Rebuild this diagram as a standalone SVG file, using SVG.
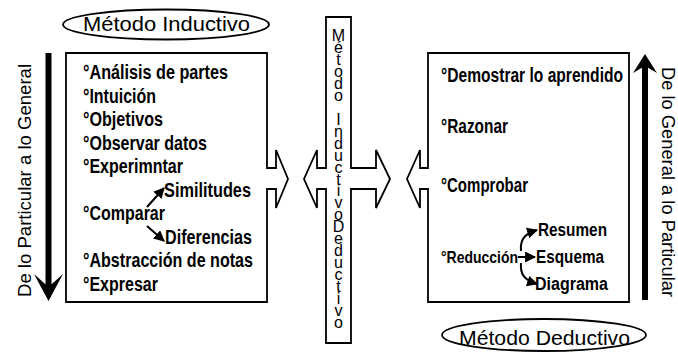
<svg xmlns="http://www.w3.org/2000/svg" width="678" height="352" viewBox="0 0 678 352">
<style>
.box{fill:#fff;stroke:#000;stroke-width:1.8;stroke-linejoin:miter}
.it{font-family:"Liberation Sans",Arial,sans-serif;font-weight:bold;font-size:20px;fill:#000}
.sm{font-size:18px}
.xs{font-size:16.5px}
.lbl{font-family:"Liberation Sans",Arial,sans-serif;font-size:20px;fill:#000}
.side{font-family:"Liberation Sans",Arial,sans-serif;font-size:19px;fill:#000}
.mid{font-family:"Liberation Sans",Arial,sans-serif;font-size:16px;fill:#000;writing-mode:vertical-rl;text-orientation:upright}
.ell{fill:#fff;stroke:#000;stroke-width:1.8}
.con{fill:none;stroke:#000;stroke-width:2}
</style>
<defs>
<marker id="ah" viewBox="0 0 10 10" refX="9" refY="5" markerWidth="11" markerHeight="11" markerUnits="userSpaceOnUse" orient="auto">
<path d="M0,0 L10,5 L0,10 Z" fill="#000"/>
</marker>
</defs>
<rect width="678" height="352" fill="#fff"/>

<g id="node-inductivo-label">
<ellipse class="ell" cx="166" cy="24.5" rx="103" ry="15"/>
<text class="lbl" x="83" y="31" textLength="167" lengthAdjust="spacingAndGlyphs">Método Inductivo</text>
</g>

<g id="node-deductivo-label">
<ellipse class="ell" cx="544" cy="335" rx="102" ry="16"/>
<text class="lbl" x="459" y="345" textLength="171" lengthAdjust="spacingAndGlyphs">Método Deductivo</text>
</g>

<g id="node-inductivo">
<path class="box" d="M66,53 H267 V168 H276 V150 L288,179 L276,208 V189 H267 V302 H66 Z"/>
<text class="it" x="83" y="79" textLength="145" lengthAdjust="spacingAndGlyphs">°Análisis de partes</text>
<text class="it" x="83" y="103" textLength="73" lengthAdjust="spacingAndGlyphs">°Intuición</text>
<text class="it" x="83" y="126" textLength="80" lengthAdjust="spacingAndGlyphs">°Objetivos</text>
<text class="it" x="83" y="150" textLength="124" lengthAdjust="spacingAndGlyphs">°Observar datos</text>
<text class="it" x="83" y="173" textLength="100" lengthAdjust="spacingAndGlyphs">°Experimntar</text>
<text class="it" x="164" y="197" textLength="87" lengthAdjust="spacingAndGlyphs">Similitudes</text>
<text class="it" x="83" y="220" textLength="82" lengthAdjust="spacingAndGlyphs">°Comparar</text>
<text class="it" x="165" y="244" textLength="87" lengthAdjust="spacingAndGlyphs">Diferencias</text>
<text class="it" x="83" y="267" textLength="170" lengthAdjust="spacingAndGlyphs">°Abstracción de notas</text>
<text class="it" x="83" y="291" textLength="75" lengthAdjust="spacingAndGlyphs">°Expresar</text>
</g>

<g id="node-central">
<path class="box" d="M326,17 H351 V168 H376 V150 L390,179 L376,208 V189 H351 V343 H326 V189 H317 V208 L304,179 L317,150 V168 H326 Z"/>
<text class="mid" x="338.5" y="27" textLength="304" lengthAdjust="spacing">Método InductivoDeductivo</text>
</g>

<g id="node-deductivo">
<path class="box" d="M428,53 H629 V302 H428 V189 H420 V208 L407,179 L420,150 V168 H428 Z"/>
<text class="it" x="441" y="82" textLength="182" lengthAdjust="spacingAndGlyphs">°Demostrar lo aprendido</text>
<text class="it" x="441" y="133" textLength="67" lengthAdjust="spacingAndGlyphs">°Razonar</text>
<text class="it" x="441" y="192" textLength="87" lengthAdjust="spacingAndGlyphs">°Comprobar</text>
<text class="it sm" x="538" y="236" textLength="69" lengthAdjust="spacingAndGlyphs">Resumen</text>
<text class="it xs" x="441" y="263" textLength="77" lengthAdjust="spacingAndGlyphs">°Reducción</text>
<text class="it sm" x="536" y="263" textLength="68" lengthAdjust="spacingAndGlyphs">Esquema</text>
<text class="it sm" x="535" y="290" textLength="73" lengthAdjust="spacingAndGlyphs">Diagrama</text>
</g>

<g id="node-left-direction">
<rect x="45.5" y="53" width="6" height="236" fill="#000"/>
<polygon points="34,274 48.5,287 63,274 48.5,301" fill="#000"/>
<text class="side" transform="translate(31,297) rotate(-90)" textLength="233" lengthAdjust="spacingAndGlyphs">De lo Particular a lo General</text>
</g>

<g id="node-right-direction">
<rect x="642" y="66" width="6" height="234" fill="#000"/>
<polygon points="645,54 633,73 645,66 657,73" fill="#000"/>
<text class="side" transform="translate(662,67) rotate(90)" textLength="230" lengthAdjust="spacingAndGlyphs">De lo General a lo Particular</text>
</g>

<g id="connectors">
<path class="con" d="M147,207 L164,188" marker-end="url(#ah)"/>
<path class="con" d="M147,226 L164,241" marker-end="url(#ah)"/>
<path class="con" d="M521,251 C520,240 524,234 537,230" marker-end="url(#ah)"/>
<path class="con" d="M518,257 H535" marker-end="url(#ah)"/>
<path class="con" d="M521,263 C520,274 524,280 537,284" marker-end="url(#ah)"/>
</g>
</svg>
